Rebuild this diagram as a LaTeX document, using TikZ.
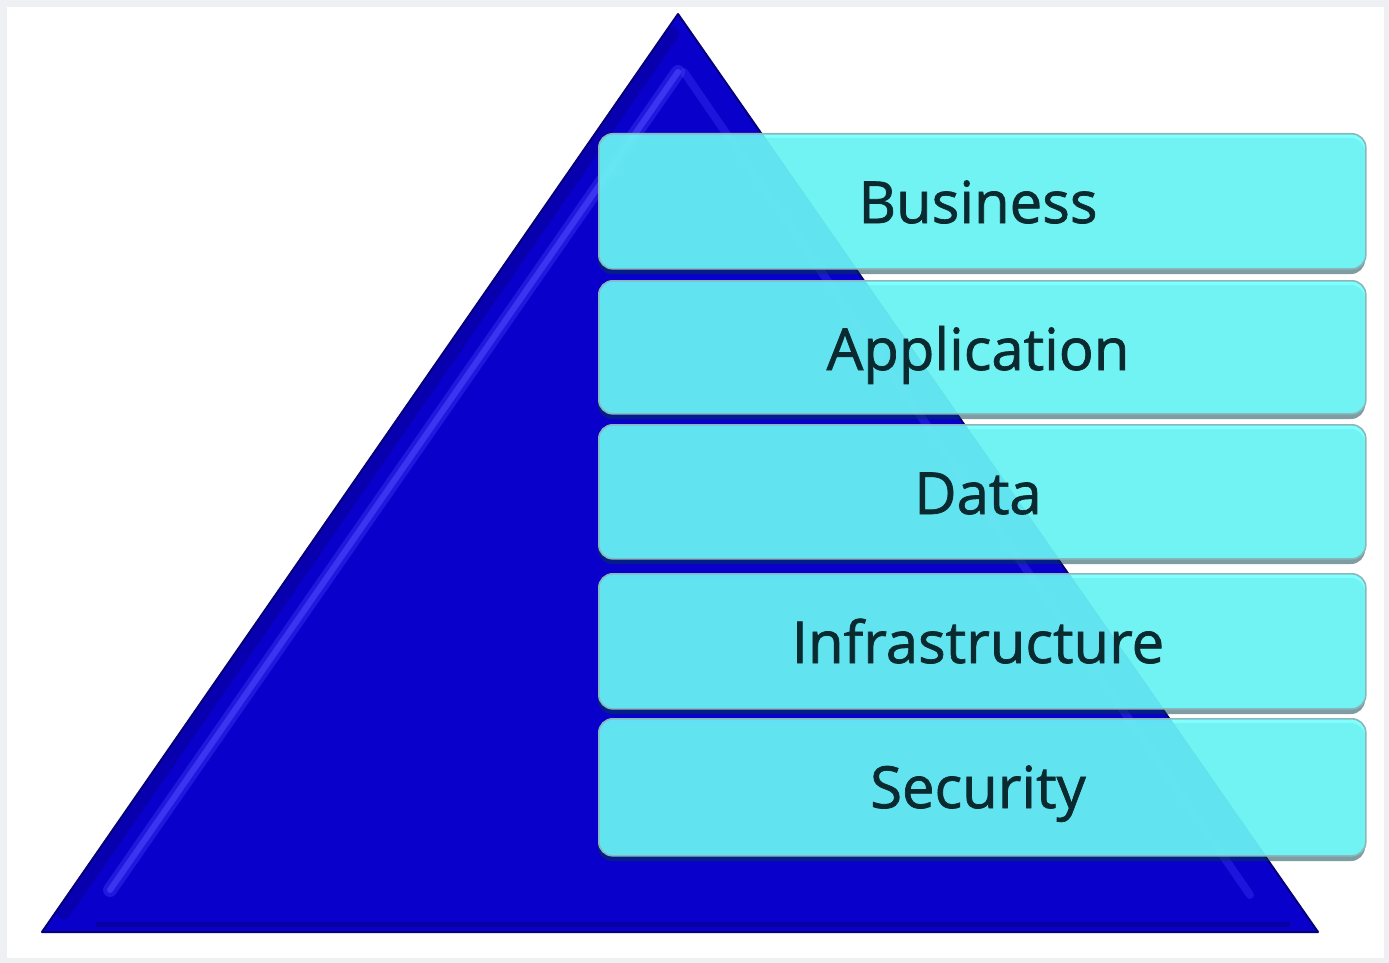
\documentclass[tikz,border=0pt]{standalone}
\usepackage{fontspec}
\setmainfont{Open Sans}
\newfontfamily\lblfont{Open Sans}[FakeBold=1.2]
\begin{document}
\begin{tikzpicture}[x=1pt,y=-1pt,
  layerbox/.style={rounded corners=14pt, fill=boxcyan, fill opacity=0.88, draw=boxline, line width=1.6pt, text opacity=1},
  layershadow/.style={rounded corners=14pt, fill=shadowteal, fill opacity=0.5},
  layertext/.style={font=\lblfont\fontsize{58}{62}\selectfont, text=textdark, anchor=base}]
\definecolor{bggray}{HTML}{EEF0F4}
\definecolor{triblue}{HTML}{0A00CC}
\definecolor{tridark}{HTML}{05007A}
\definecolor{trilight}{HTML}{4A48FF}
\definecolor{boxcyan}{HTML}{70FFFF}
\definecolor{boxline}{HTML}{88B8BC}
\definecolor{shadowteal}{HTML}{003A48}
\definecolor{textdark}{HTML}{0A2A30}
\useasboundingbox (0,0) rectangle (1389,963);
\fill[bggray] (0,0) rectangle (1389,963);
\fill[white] (7,7) rectangle (1384,958);
% pyramid
\coordinate (apex) at (678,14);
\coordinate (bl) at (42,932);
\coordinate (br) at (1318,932);
\fill[triblue, draw=tridark, line width=2pt, line join=round] (apex) -- (br) -- (bl) -- cycle;
% bevel highlights
\draw[tridark, line width=14pt, opacity=0.35, line cap=round] (672,34) -- (64,912);
\draw[trilight, line width=14pt, line cap=round, opacity=0.35] (678,72) -- (110,890);
\draw[trilight, line width=6pt, line cap=round, opacity=0.6] (678,72) -- (110,890);
\draw[trilight, line width=8pt, line cap=round, opacity=0.3] (684,72) -- (1250,895);
\draw[tridark, line width=5pt, opacity=0.5] (96,924) -- (1290,924);
% layers
\foreach \t/\b/\n/\lab in {133/268/business/Business, 280/413/application/Application, 424/558/data/Data, 573/708/infra/Infrastructure, 718/855/security/Security}{
  \fill[layershadow] (598,\t+5) rectangle (1365,\b+6);
  \node[layerbox, minimum width=767pt, minimum height={(\b-\t)*1pt}, inner sep=0pt, anchor=north west] (\n) at (598,\t) {};
  \node[layertext] (\n-label) at (978,\t+90) {\lab};
}
\end{tikzpicture}
\end{document}
